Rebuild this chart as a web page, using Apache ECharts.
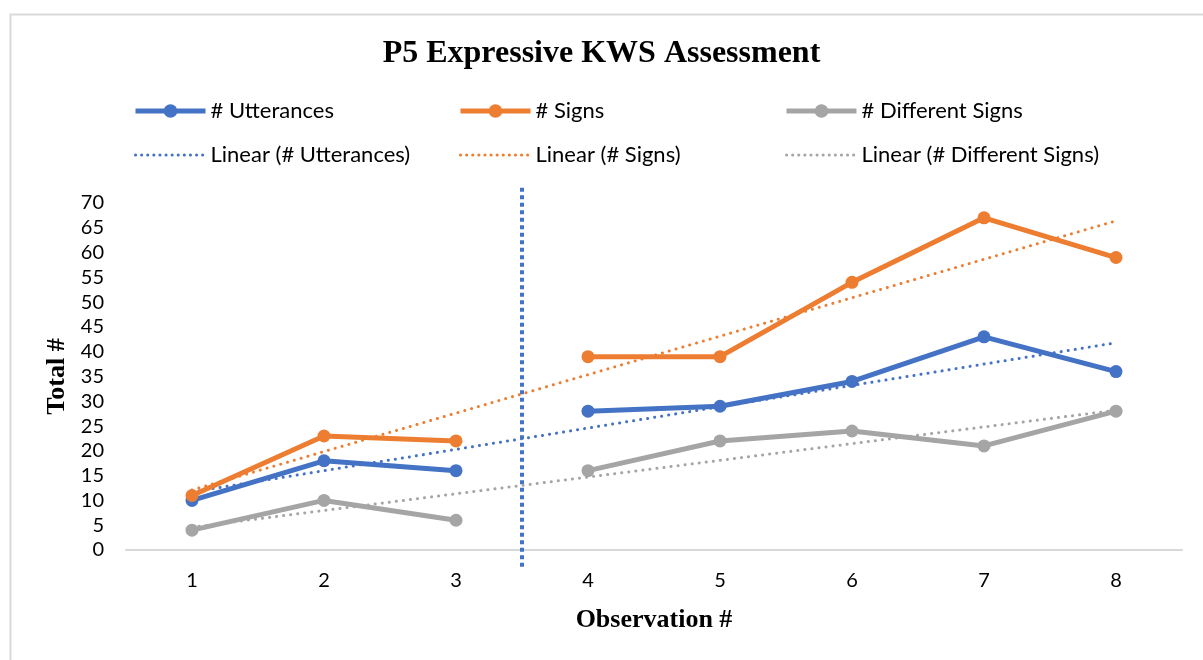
<!DOCTYPE html>
<html>
<head>
<meta charset="utf-8">
<script src="https://cdn.jsdelivr.net/npm/echarts@6/dist/echarts.min.js"></script>
<style>
  html, body { margin: 0; padding: 0; background: #fff; }
  #chart { width: 1203px; height: 660px; }
</style>
</head>
<body>
<div id="chart"></div>
<script>
// Observation numbers along the x axis
const observations = ['1', '2', '3', '4', '5', '6', '7', '8'];
// Counts per observation
const utterances = [10, 18, 16, 28, 29, 34, 43, 36];
const signs = [11, 23, 22, 39, 39, 54, 67, 59];
const differentSigns = [4, 10, 6, 16, 22, 24, 21, 28];
// Linear trend values at the first and last observation
const utterancesTrend = [11.7, 41.8];
const signsTrend = [12.1, 66.4];
const differentSignsTrend = [4.6, 28.2];
// Phase change: first observation of the second phase, and the divider position
const secondPhaseStart = 3;
const phaseDivider = 3.5;
const dividerSpan = [-3.4, 73.2];
// Y axis ticks
const yTicks = [0, 70, 5];

const COLORS = { blue: '#4472C4', orange: '#ED7D31', gray: '#A5A5A5' };
const SANS = 'Lato, "Open Sans", sans-serif';
const SERIF = '"Liberation Serif", "Times New Roman", serif';
const TREND_DASH = [0.1, 7];

function phase(values, first) {
  return values.map((v, i) => (first ? i < secondPhaseStart : i >= secondPhaseStart) ? v : '-');
}

function dataSeries(name, values, color) {
  const base = {
    name, type: 'line', symbol: 'circle', symbolSize: 13,
    lineStyle: { width: 5, color }, itemStyle: { color },
    z: 3
  };
  return [
    Object.assign({}, base, { data: phase(values, true) }),
    Object.assign({}, base, { data: phase(values, false) })
  ];
}

function trendSeries(name, ends, color) {
  return {
    name, type: 'line', symbol: 'none', z: 2,
    data: [[observations[0], ends[0]], [observations[observations.length - 1], ends[1]]],
    lineStyle: { width: 3, color, type: TREND_DASH, cap: 'round' },
    itemStyle: { color }
  };
}

const legendText = { fontFamily: SANS, fontSize: 22, color: '#000' };
function legendColumn(left, name, trendName, color) {
  return {
    data: [
      { name, lineStyle: { width: 5, color }, itemStyle: { color } },
      { name: trendName, lineStyle: { width: 3, color, type: [0.1, 6], cap: 'round' },
        itemStyle: { opacity: 0 } }
    ],
    orient: 'vertical', left, top: 95,
    itemWidth: 70, itemHeight: 17, itemGap: 22,
    textStyle: legendText, selectedMode: false
  };
}

const chart = echarts.init(document.getElementById('chart'));
chart.setOption({
  animation: false,
  backgroundColor: '#fff',
  graphic: [{
    type: 'rect', left: 8, top: 12,
    shape: { width: 1300, height: 700 },
    style: { fill: 'none', stroke: '#D9D9D9', lineWidth: 2 },
    silent: true
  }],
  title: {
    text: 'P5 Expressive KWS Assessment',
    left: 'center', top: 33,
    textStyle: { fontFamily: SERIF, fontWeight: 'bold', fontSize: 32, color: '#000' }
  },
  legend: [
    legendColumn(128, '# Utterances', 'Linear (# Utterances)', COLORS.blue),
    legendColumn(453, '# Signs', 'Linear (# Signs)', COLORS.orange),
    legendColumn(779, '# Different Signs', 'Linear (# Different Signs)', COLORS.gray)
  ],
  grid: { left: 126, right: 21, top: 203, bottom: 110 },
  xAxis: [{
    type: 'category', data: observations, boundaryGap: true,
    axisLine: { lineStyle: { color: '#D9D9D9', width: 2 } },
    axisTick: { show: false },
    axisLabel: { fontFamily: SANS, fontSize: 20, color: '#000', margin: 21 },
    name: 'Observation #', nameLocation: 'middle', nameGap: 57,
    nameTextStyle: { fontFamily: SERIF, fontWeight: 'bold', fontSize: 26, color: '#000' }
  }, {
    type: 'value', min: 0.5, max: observations.length + 0.5, show: false
  }],
  yAxis: {
    type: 'value', min: yTicks[0], max: yTicks[1], interval: yTicks[2],
    axisLine: { show: false }, axisTick: { show: false }, splitLine: { show: false },
    axisLabel: { fontFamily: SANS, fontSize: 20, color: '#000', margin: 22 },
    name: 'Total #', nameLocation: 'middle', nameGap: 55,
    nameTextStyle: { fontFamily: SERIF, fontWeight: 'bold', fontSize: 26, color: '#000' }
  },
  series: [
    ...dataSeries('# Utterances', utterances, COLORS.blue),
    ...dataSeries('# Signs', signs, COLORS.orange),
    ...dataSeries('# Different Signs', differentSigns, COLORS.gray),
    trendSeries('Linear (# Utterances)', utterancesTrend, COLORS.blue),
    trendSeries('Linear (# Signs)', signsTrend, COLORS.orange),
    trendSeries('Linear (# Different Signs)', differentSignsTrend, COLORS.gray),
    {
      type: 'line', xAxisIndex: 1, symbol: 'none', clip: false, z: 1,
      data: [[phaseDivider, dividerSpan[0]], [phaseDivider, dividerSpan[1]]],
      lineStyle: { width: 4, color: COLORS.blue, type: [4, 3.5], cap: 'butt' }
    }
  ]
});
</script>
</body>
</html>
